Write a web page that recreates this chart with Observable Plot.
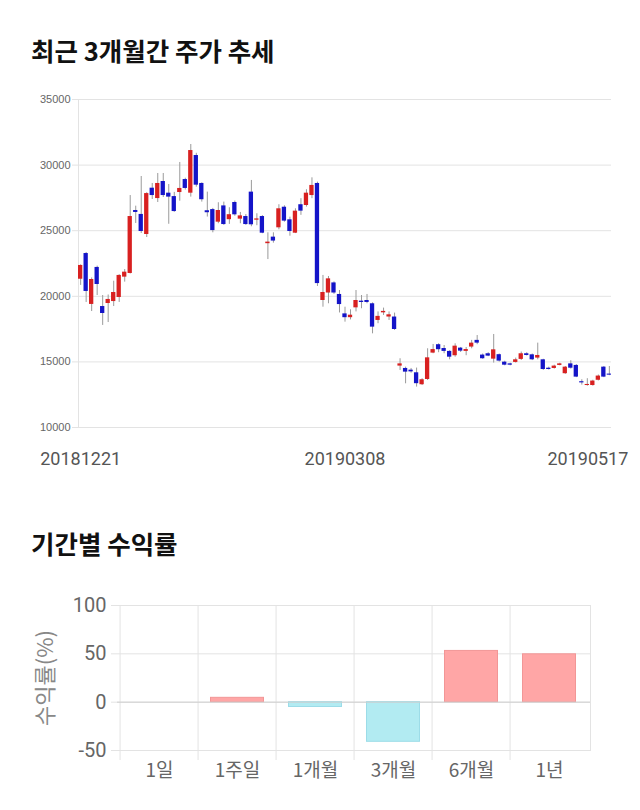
<!DOCTYPE html>
<html><head><meta charset="utf-8">
<script src="https://cdn.jsdelivr.net/npm/d3@7"></script>
<script src="https://cdn.jsdelivr.net/npm/@observablehq/plot@0.6"></script>
<style>
body{margin:0;background:#fff;width:640px;height:810px;position:relative;overflow:hidden;font-family:"Noto Sans CJK KR",sans-serif;}
.title{position:absolute;left:31px;font-size:25.5px;font-weight:700;color:#111;line-height:30px;white-space:nowrap;}
#t1{top:35px} #t2{top:528px}
#c1{position:absolute;top:80px;left:0}
#c2{position:absolute;top:580px;left:0}
</style></head><body>
<div class="title" id="t1">최근 3개월간 주가 추세</div>
<div id="c1"></div>
<div class="title" id="t2">기간별 수익률</div>
<div id="c2"></div>
<script>
// ---- Candlestick data (KRW) ----
const dates = [
"20181221","20181224","20181226","20181227","20181228",
"20190102","20190103","20190104","20190107","20190108","20190109","20190110","20190111",
"20190114","20190115","20190116","20190117","20190118","20190121","20190122","20190123","20190124","20190125",
"20190128","20190129","20190130","20190131","20190201",
"20190207","20190208","20190211","20190212","20190213","20190214","20190215",
"20190218","20190219","20190220","20190221","20190222","20190225","20190226","20190227","20190228",
"20190304","20190305","20190306","20190307","20190308","20190311","20190312","20190313","20190314","20190315",
"20190318","20190319","20190320","20190321","20190322","20190325","20190326","20190327","20190328","20190329",
"20190401","20190402","20190403","20190404","20190405","20190408","20190409","20190410","20190411","20190412",
"20190415","20190416","20190417","20190418","20190419","20190422","20190423","20190424","20190425","20190426",
"20190429","20190430","20190502","20190503","20190507","20190508","20190509","20190510",
"20190513","20190514","20190515","20190516","20190517"];
const open = [21300,23260,19380,22200,19220,19450,19600,19910,21460,21740,
26540,26240,24710,28240,27450,28750,27860,27600,27910,28900,
27860,30730,28600,26520,26610,25650,26890,25840,27150,25880,
26080,27940,25800,26080,24010,24510,25220,26790,25830,24810,
26980,26920,27680,28600,19680,20250,21020,20140,18660,18370,
19120,19630,19680,19430,18160,18740,18420,18420,14680,14500,
14370,14170,13260,13660,15670,16310,16020,15800,15470,16050,
15800,16130,16640,15520,15620,15210,15550,14980,14850,14960,
15190,15620,15540,15290,15160,14520,14500,14730,14100,14850,
14730,13490,13200,13200,13600,14600,14070];
const high = [22400,23340,21400,22300,20060,20100,21150,21650,22040,27680,
26870,29130,27900,28600,29360,29360,28520,27920,30200,29000,
31570,30900,28650,27940,26700,27130,27180,26750,27260,26390,
26230,28830,26290,26150,24840,24840,26980,26900,26030,26670,
27440,28120,29030,28700,21590,21510,21100,20440,19170,18970,
20440,20060,20140,19500,18810,19100,18810,18720,15240,14600,
14500,14530,13720,16000,16330,16380,16250,15850,16380,16100,
16100,16640,17010,15600,15700,17090,15600,15050,14900,15290,
15750,15700,15600,16430,15200,14600,14750,14900,14650,15090,
14800,13640,13720,13600,14000,14650,14650];
const low = [20830,19530,18840,20060,17780,18000,19220,19530,21080,21700,
25550,24790,24480,27380,27150,27530,25490,26400,27250,28100,
27560,28320,27180,26040,24840,25530,25400,25480,26100,25530,
25400,25300,25380,24770,22800,24050,25070,25650,24580,24780,
26170,26800,27440,20750,19170,19430,20150,18730,18030,18200,
18810,19050,19430,17140,17910,18540,18160,17400,14350,13330,
14140,13080,13200,13580,15620,15700,15620,15160,15360,15720,
15470,16000,16310,15200,15400,14910,14980,14700,14700,14910,
15110,15450,15100,15160,14350,14380,14450,14700,14050,14450,
13800,13230,13150,13150,13550,13800,13950];
const close = [22350,20370,21280,20900,18690,19760,20290,21590,21840,26080,
26390,24940,27830,27680,28600,27680,27560,26460,28220,28220,
31110,28470,27360,26370,25010,26540,25470,26220,26210,26130,
25470,25450,25900,24810,24130,24210,26670,25730,24940,26490,
26490,27860,28450,20970,20290,21330,20250,19370,18370,18560,
19680,19530,19530,17650,18470,18850,18590,17470,14850,14220,
14240,13340,13640,15310,15940,15930,15800,15360,16200,15820,
15940,16430,16430,15240,15440,15920,15060,14750,14750,15160,
15620,15490,15160,15490,14420,14420,14680,14850,14600,14520,
13840,13400,13280,13540,13920,13840,13990];
const priceTicks = [10000,15000,20000,25000,30000,35000];
const dateTickLabels = ["20181221","20190308","20190517"];

// ---- Period returns (%) ----
const periods = ["1일","1주일","1개월","3개월","6개월","1년"];
const returns = [0, 4.5, -5, -41, 53, 49.5];
const returnTicks = [-50, 0, 50, 100];

const UP = "#d82020", DOWN = "#1414c8";
const candles = dates.map((d,i)=>({date:d, open:open[i], high:high[i], low:low[i], close:close[i]}));

const c1 = Plot.plot({
  width:640, height:400, marginLeft:78, marginRight:29, marginTop:19, marginBottom:53,
  x:{type:"band", domain:dates, paddingInner:0.22, paddingOuter:0, align:0.5, label:null},
  y:{domain:[10000,35000], label:null},
  color:{type:"identity"},
  style:{fontFamily:"Liberation Sans, Arial, sans-serif", background:"transparent", overflow:"visible"},
  marks:[
    Plot.gridY(priceTicks,{stroke:"#e3e3e3", strokeOpacity:1}),
    Plot.frame({anchor:"left", stroke:"#e3e3e3"}),
    Plot.axisY(priceTicks,{tickSize:6, stroke:"#e3e3e3", tickPadding:2, fontSize:11, fill:"#666", label:null, tickFormat:d=>String(d)}),
    Plot.ruleX(candles,{x:"date", y1:"low", y2:"high", stroke:"#9a9a9a", strokeWidth:1}),
    Plot.barY(candles,{x:"date", y1:"open", y2:"close", fill:d=>d.close>=d.open?UP:DOWN}),
    Plot.axisX(dateTickLabels.slice(0,2),{tickSize:0, tickPadding:25, fontSize:18, fill:"#555", label:null, fontFamily:"Roboto, sans-serif"}),
    Plot.axisX(dateTickLabels.slice(2),{tickSize:0, tickPadding:25, fontSize:18, fill:"#555", label:null, textAnchor:"end", dx:19, fontFamily:"Roboto, sans-serif"})
  ]
});
document.getElementById("c1").appendChild(c1);

const rets = periods.map((p,i)=>({p, v:returns[i]}));
const step = (640-117-50)/periods.length;
const c2 = Plot.plot({
  width:640, height:225, marginLeft:117, marginRight:50, marginTop:25, marginBottom:55,
  x:{type:"band", domain:periods, padding:0, label:null},
  y:{domain:[-50,100], label:null},
  color:{type:"identity"},
  style:{fontFamily:"Noto Sans CJK KR, sans-serif", background:"transparent", overflow:"visible"},
  marks:[
    Plot.gridY(returnTicks,{stroke:"#e3e3e3", strokeOpacity:1}),
    Plot.ruleX(periods,{x:d=>d, dx:-step/2, stroke:"#e3e3e3", insetBottom:-10}),
    Plot.frame({anchor:"right", stroke:"#e3e3e3"}),
    Plot.axisY(returnTicks,{tickSize:6, stroke:"#e3e3e3", tickPadding:5, fontSize:20, fill:"#666", label:null, tickFormat:d=>String(d), fontFamily:"Roboto, sans-serif"}),
    Plot.barY(rets,{x:"p", y:"v", fill:d=>d.v>=0?"#ffa6a6":"#b2ebf2", stroke:d=>d.v>=0?"#f29696":"#9cdce8", insetLeft:12.5, insetRight:12.5}),
    Plot.ruleY([0],{stroke:"#cfcfcf"}),
    Plot.axisX(periods,{tickSize:0, tickPadding:13, fontSize:19, fill:"#666", label:null}),
    Plot.text(["수익률(%)"],{frameAnchor:"left", textAnchor:"middle", rotate:-90, dx:-72, dy:0, fontSize:22, fill:"#888"})
  ]
});
document.getElementById("c2").appendChild(c2);
</script>
</body></html>
